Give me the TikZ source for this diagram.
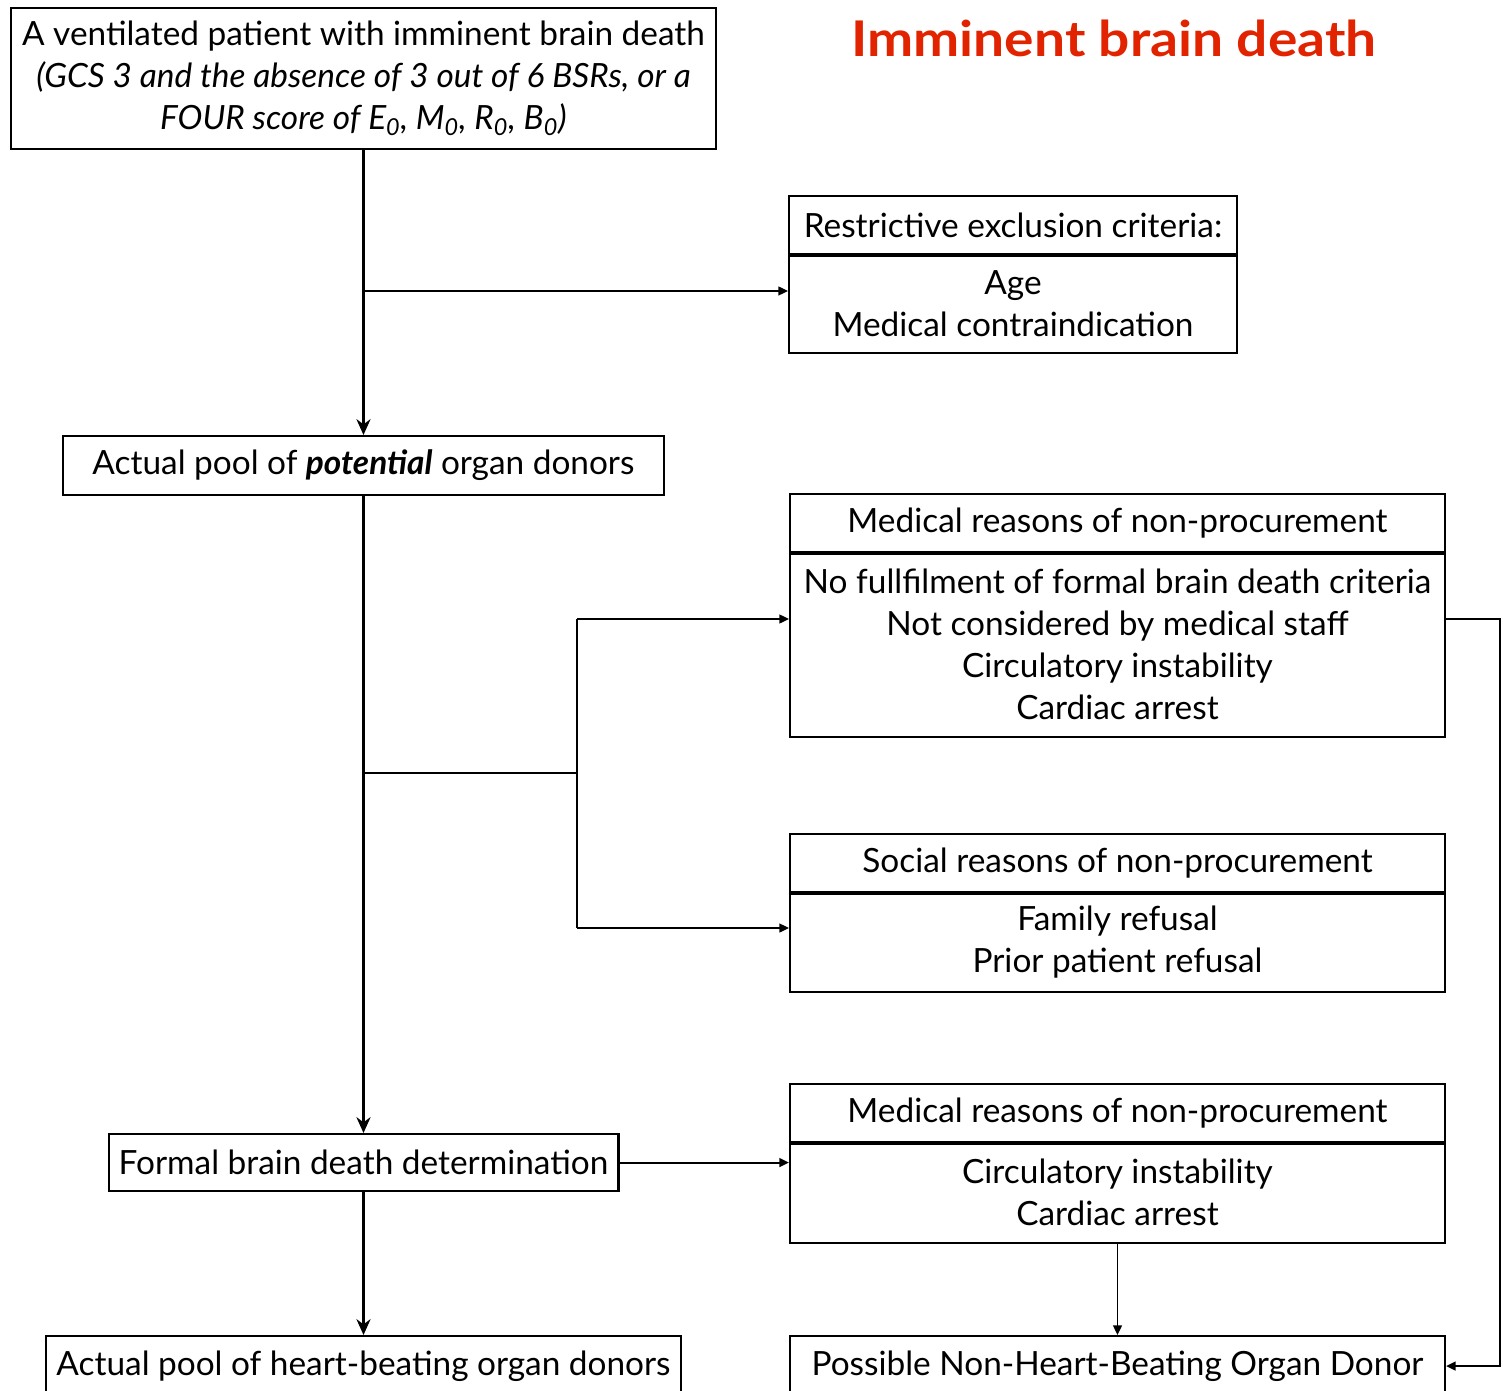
\documentclass[tikz,border=0pt]{standalone}
\usepackage{fontspec}
\setmainfont{Lato}
\usetikzlibrary{arrows.meta}
\definecolor{titlered}{RGB}{225,35,0}
\tikzset{
  box/.style={draw, line width=1.2pt, inner sep=0pt, align=center, anchor=north west,
    font=\fontsize{19}{23.9}\selectfont},
  trunk/.style={line width=1.7pt, -{Stealth[length=9pt,width=8pt]}},
  thinarrow/.style={line width=1.1pt, -{Triangle[length=5.5pt,width=5pt]}},
  thinline/.style={line width=1.1pt},
  divider/.style={line width=1.9pt},
}
\begin{document}
\begin{tikzpicture}[x=0.02cm,y=-0.02cm]
\useasboundingbox (0,0) rectangle (1503,1391);
\clip (0,0) rectangle (1503,1391);

\node[font=\fontsize{28}{32}\selectfont\bfseries, text=titlered] (title) at (1114,38)
  {\scalebox{1.12}[1]{Imminent brain death}};

\node[box, minimum width=14.1cm, minimum height=2.82cm] (top) at (10,7)
  {A ventilated patient with imminent brain death\\
   \itshape (GCS 3 and the absence of 3 out of 6 BSRs, or a\\
   \itshape FOUR score of E\textsubscript{0}, M\textsubscript{0}, R\textsubscript{0}, B\textsubscript{0})};

\node[box, minimum width=8.96cm, minimum height=1.16cm] (rhead) at (788,195) {Restrictive exclusion criteria:};
\node[box, minimum width=8.96cm, minimum height=1.98cm] (rbody) at (788,253) {Age\\Medical contraindication};
\draw[divider] (rhead.south west) -- (rhead.south east);

\node[box, minimum width=12.02cm, minimum height=1.18cm] (pot) at (62,435)
  {Actual pool of \textbf{\textit{potential}} organ donors};

\node[box, minimum width=13.1cm, minimum height=1.16cm] (m1head) at (789,493) {Medical reasons of non-procurement};
\node[box, minimum width=13.1cm, minimum height=3.7cm] (m1body) at (789,551)
  {No fullfilment of formal brain death criteria\\Not considered by medical staff\\Circulatory instability\\Cardiac arrest};
\draw[divider] (m1head.south west) -- (m1head.south east);

\node[box, minimum width=13.1cm, minimum height=1.16cm] (shead) at (789,833) {Social reasons of non-procurement};
\node[box, minimum width=13.1cm, minimum height=2.0cm] (sbody) at (789,891) {Family refusal\\Prior patient refusal};
\draw[divider] (shead.south west) -- (shead.south east);

\node[box, minimum width=13.1cm, minimum height=1.16cm] (m2head) at (789,1083) {Medical reasons of non-procurement};
\node[box, minimum width=13.1cm, minimum height=2.02cm] (m2body) at (789,1141) {Circulatory instability\\Cardiac arrest};
\draw[divider] (m2head.south west) -- (m2head.south east);

\node[box, minimum width=10.2cm, minimum height=1.14cm] (formal) at (107.5,1133) {Formal brain death determination};

\node[box, minimum width=12.7cm, minimum height=1.2cm] (heart) at (45,1335) {Actual pool of heart-beating organ donors};
\node[box, minimum width=13.1cm, minimum height=1.2cm] (nhb) at (789,1335) {Possible Non-Heart-Beating Organ Donor};

% trunk
\draw[trunk] (top.south) -- (top.south |- pot.north);
\draw[trunk] (pot.south) -- (pot.south |- formal.north);
\draw[trunk] (formal.south) -- (formal.south |- heart.north);

% side connectors
\coordinate (j1) at (362.5,291);
\draw[thinarrow] (j1) -- (j1 -| rbody.west);

\coordinate (j2) at (362.5,773);
\coordinate (b0) at (577,773);
\coordinate (b1) at (577,619);
\coordinate (b2) at (577,928);
\draw[thinline] (j2) -- (b0);
\draw[thinline] (b1) -- (b2);
\draw[thinarrow] (b1) -- (b1 -| m1body.west);
\draw[thinarrow] (b2) -- (b2 -| sbody.west);

\draw[thinarrow] (formal.east) -- (formal.east -| m2body.west);
\draw[thinarrow] (m2body.south) -- (nhb.north);

\coordinate (r1) at (1500,619);
\draw[thinarrow] (b1 -| m1body.east) -- (r1) -- (r1 |- nhb.east) -- (nhb.east);
\end{tikzpicture}
\end{document}
